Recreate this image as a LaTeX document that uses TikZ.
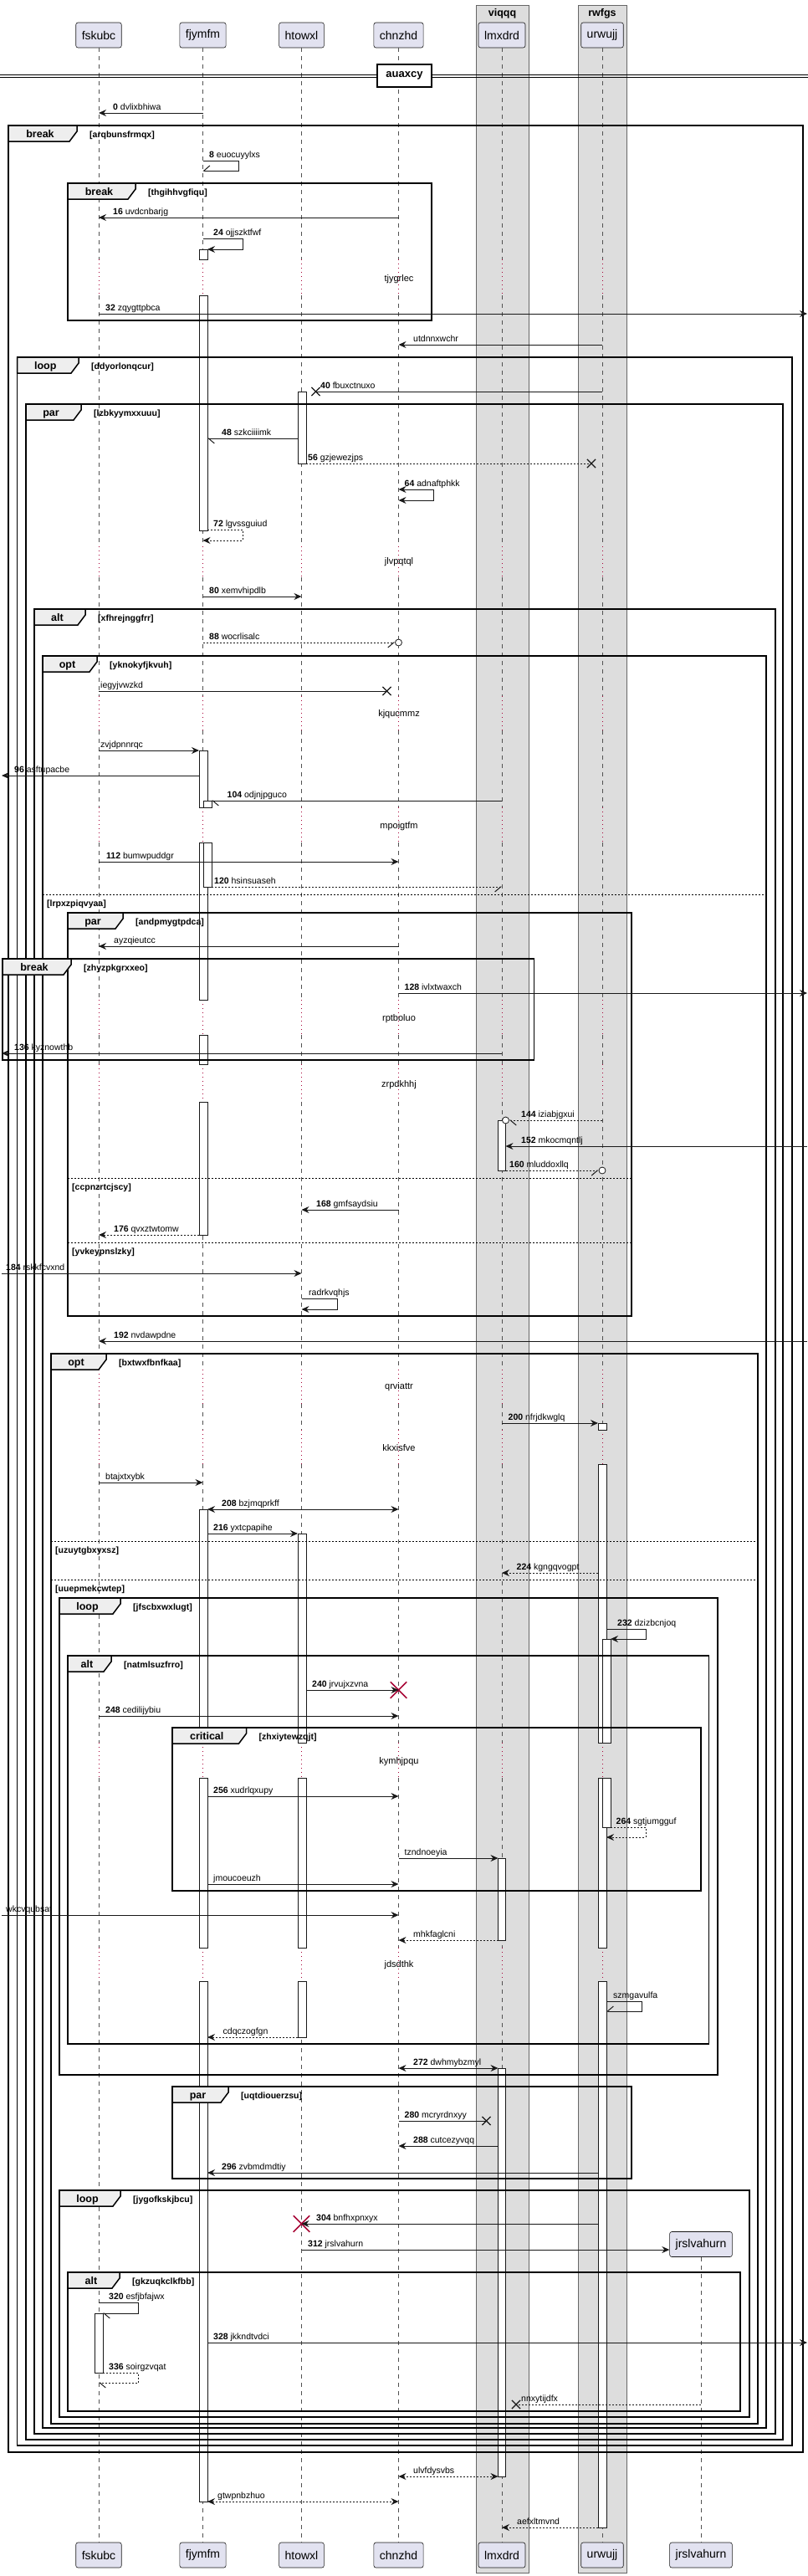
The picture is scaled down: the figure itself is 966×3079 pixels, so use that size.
\documentclass[tikz,border=0pt]{standalone}
\usepackage{fontspec}
\setmainfont{Liberation Sans}
\usetikzlibrary{arrows.meta, shapes.misc}
\definecolor{UML_Part}{HTML}{E2E2F0}
\definecolor{UML_Line}{HTML}{181818}
\definecolor{UML_Box}{HTML}{DDDDDD}
\definecolor{UML_Tab}{HTML}{EEEEEE}
\definecolor{UML_Red}{HTML}{A80036}

\begin{document}
\begin{tikzpicture}[
  x=1pt, y=-1pt,
  every node/.style={font=\fontsize{10.5}{12}\selectfont, inner sep=0pt},
  part/.style={draw=UML_Line, fill=UML_Part, rounded corners=2.5pt, line width=0.6pt,
    minimum height=30pt, inner xsep=7pt, font=\fontsize{14}{16}\selectfont},
  grp/.style={draw=gray!80!black, fill=UML_Box, line width=0.6pt},
  grptxt/.style={font=\bfseries\fontsize{12.5}{14}\selectfont},
  life/.style={UML_Line!75, dash pattern=on 5pt off 5pt, line width=0.5pt},
  wait/.style={UML_Red, dash pattern=on 1pt off 4pt, line width=0.7pt},
  dtxt/.style={font=\fontsize{11}{13}\selectfont},
  bar/.style={draw=UML_Line, fill=white, line width=0.8pt},
  frm/.style={draw=black, line width=1.5pt},
  tab/.style={draw=black, fill=UML_Tab, line width=1.5pt},
  kind/.style={font=\bfseries\fontsize{12.5}{14}\selectfont, anchor=base},
  cond/.style={font=\bfseries\fontsize{10.5}{12}\selectfont, anchor=base west},
  sepline/.style={black, dash pattern=on 2pt off 2pt, line width=1pt},
  solidline/.style={UML_Line, line width=1pt},
  dsh/.style={dash pattern=on 2pt off 2pt},
  msg/.style={solidline, -{Stealth[length=9pt, width=8pt, inset=3pt]}},
  ret/.style={msg, dsh},
  twoway/.style={solidline, {Stealth[length=9pt, width=8pt, inset=3pt]}-{Stealth[length=9pt, width=8pt, inset=3pt]}},
  half/.style={solidline, -{Straight Barb[harpoon, length=7pt, width=12pt]}},
  halfs/.style={solidline, -{Straight Barb[harpoon, swap, length=7pt, width=12pt]}},
  lbl/.style={anchor=base west},
  xmark/.style={cross out, draw=UML_Line, line width=1.2pt, minimum size=9pt},
  kill/.style={cross out, draw=UML_Red, line width=1.5pt, minimum width=18pt, minimum height=18pt},
  ring/.style={circle, draw=UML_Line, fill=white, line width=0.8pt, minimum size=8pt}
]
  \useasboundingbox (0,0) rectangle (966,3079);

  % Boxes of participants
  \draw[grp] (569,6) rectangle (632,3075);
  \node[grptxt] (viqqq) at (600.5,16) {viqqq};
  \draw[grp] (691,6) rectangle (749,3075);
  \node[grptxt] (rwfgs) at (720,16) {rwfgs};

  % Participants
  \node[part] (fskubc) at (118,42) {fskubc};
  \node[part] (fjymfm) at (242.5,42) {fjymfm};
  \node[part] (htowxl) at (360.5,42) {htowxl};
  \node[part] (chnzhd) at (476.5,42) {chnzhd};
  \node[part] (lmxdrd) at (600,42) {lmxdrd};
  \node[part] (urwujj) at (720,42) {urwujj};
  \node[part] (jrslvahurn) at (838,2682.5) {jrslvahurn};
  \node[part] (fskubc-b) at (118,3054) {fskubc};
  \node[part] (fjymfm-b) at (242.5,3054) {fjymfm};
  \node[part] (htowxl-b) at (360.5,3054) {htowxl};
  \node[part] (chnzhd-b) at (476.5,3054) {chnzhd};
  \node[part] (lmxdrd-b) at (600,3054) {lmxdrd};
  \node[part] (urwujj-b) at (720,3054) {urwujj};
  \node[part] (jrslvahurn-b) at (838,3054) {jrslvahurn};

  % Activation edges and picture edges
  \coordinate (fskubc-r) at (123,0);
  \coordinate (fjymfm-l) at (238,0);
  \coordinate (fjymfm-r) at (248,0);
  \coordinate (fjymfm-r2) at (253,0);
  \coordinate (htowxl-l) at (356,0);
  \coordinate (htowxl-r) at (366,0);
  \coordinate (lmxdrd-l) at (595.5,0);
  \coordinate (lmxdrd-r) at (604.5,0);
  \coordinate (urwujj-l) at (715,0);
  \coordinate (urwujj-r) at (725,0);
  \coordinate (urwujj-r2) at (730,0);
  \coordinate (edge-l) at (2,0);
  \coordinate (edge-r) at (965,0);

  % Lifelines, with delays
  \foreach \p in {fskubc,fjymfm,htowxl,chnzhd,lmxdrd,urwujj}{
    \foreach \ya/\yb in {57/310,353/653,690/832,873/965,1007/1195,1237/1272,
      1317/1637,1678/1709,1750/2083,2125/2328,2368/3039}
      \draw[life] (\p |- 0,\ya) -- (\p |- 0,\yb);
    \foreach \ya/\yb in {310/353,653/690,832/873,965/1007,1195/1237,1272/1317,
      1637/1678,1709/1750,2083/2125,2328/2368}
      \draw[wait] (\p |- 0,\ya) -- (\p |- 0,\yb);
  }
  \draw[life] (jrslvahurn.south) -- (jrslvahurn-b.north);
  \foreach \y/\t in {334/tjygrlec,672/jlvpqtql,854/kjqucmmz,988/mpoigtfm,1218/rptboluo,
    1297/zrpdkhhj,1658/qrviattr,1731/kkxisfve,2106/kymhjpqu,2349/jdsdthk}
    \node[dtxt] (d-\t) at (477,\y) {\t};

  % Divider
  \draw[line width=1pt] (0,89) -- (966,89);
  \draw[line width=1pt] (0,92.5) -- (966,92.5);
  \node[draw, fill=white, line width=1.5pt, minimum width=65pt, minimum height=27pt,
    font=\bfseries\fontsize{13}{15}\selectfont] (auaxcy) at (483.5,90.5) {auaxcy};

  % Activations
  \foreach \xa/\xb/\ya/\yb in {238/248/298/310, 238/248/353/634,
    238/248/897/965, 238/248/1007/1195, 238/248/1237/1272, 238/248/1317/1476,
    243/253/957/965, 243/253/1007/1060,
    238/248/1804/2083, 238/248/2125/2328, 238/248/2368/2990,
    356/366/468/554, 356/366/1833/2083, 356/366/2125/2328, 356/366/2368/2435,
    595.5/604.5/1339/1399, 595.5/604.5/2221/2319, 595.5/604.5/2472/2960,
    715/725/1701/1709, 715/725/1750/2083, 715/725/2125/2328, 715/725/2368/3021,
    720/730/1959/2083, 720/730/2125/2184,
    113.5/123/2765/2836}
    \draw[bar] (\xa,\ya) rectangle (\xb,\yb);

  % Frames
  \foreach \n/\xa/\ya/\xb/\yb/\xt/\kd/\cd in {
    1/10/150/960/2931/92/break/arqbunsfrmqx,
    2/81/219/516/383/162/break/thgihhvgfiqu,
    3/20.5/427/947/2923/94/loop/ddyorlonqcur,
    4/31/483/936/2916/97/par/lzbkyymxxuuu,
    5/41/728/927/2909/102/alt/xfhrejnggfrr,
    6/51/784/916/2902/116/opt/yknokyfjkvuh,
    7/81/1091/755/1573/147/par/andpmygtpdca,
    8/3/1146/638.6/1267/85/break/zhyzpkgrxxeo,
    9/61/1618/906/2897/127/opt/bxtwxfbnfkaa,
    10/71/1910/858/2480/144/loop/jfscbxwxlugt,
    11/81/1979/847.5/2443/133/alt/natmlsuzfrro,
    12/206/2065/838/2260/294.5/critical/zhxiytewzqjt,
    13/206/2494/755/2604/273/par/uqtdiouerzsu,
    14/71/2618/896/2889/144/loop/jygofkskjbcu,
    15/81/2716/885/2882/143/alt/gkzuqkclkfbb}{
    \draw[frm] (\xa,\ya) rectangle (\xb,\yb);
    \draw[tab] (\xa,\ya) -- (\xt,\ya) -- (\xt,\ya+7) -- (\xt-9,\ya+19) -- (\xa,\ya+19) -- cycle;
    \node[kind] (k\n) at ({(\xa+\xt-6)/2},\ya+14) {\kd};
    \node[cond] (c\n) at (\xt+15,\ya+14) {[\cd]};
  }
  \foreach \xa/\xb/\y/\cd in {51/916/1069/lrpxzpiqvyaa, 81/755/1408/ccpnzrtcjscy,
    81/755/1485/yvkeypnslzky, 61/906/1842/uzuytgbxyxsz, 61/906/1888/uuepmekcwtep}{
    \draw[sepline] (\xa,\y) -- (\xb,\y);
    \node[cond] (s-\cd) at (\xa+5,\y+14) {[\cd]};
  }

  % Messages
  \draw[msg] (fjymfm |- 0,135) -- (fskubc |- 0,135);
  \node[lbl] (m0) at (135,131) {\textbf{0} dvlixbhiwa};
  \draw[halfs] (fjymfm |- 0,192) -- ++(43,0) -- ++(0,12) -- (fjymfm |- 0,204);
  \node[lbl] (m8) at (250,188) {\textbf{8} euocuyylxs};
  \draw[msg] (chnzhd |- 0,260) -- (fskubc |- 0,260);
  \node[lbl] (m16) at (135,256) {\textbf{16} uvdcnbarjg};
  \draw[msg] (fjymfm |- 0,285.5) -- ++(47.5,0) -- ++(0,12.5) -- (fjymfm-r |- 0,298);
  \node[lbl] (m24) at (255,281.5) {\textbf{24} ojjszktfwf};
  \draw[msg] (fskubc |- 0,375) -- (edge-r |- 0,375);
  \node[lbl] (m32) at (126,371) {\textbf{32} zqygttpbca};
  \draw[msg] (urwujj |- 0,412) -- (chnzhd |- 0,412);
  \node[lbl] (m33) at (494,408) {utdnnxwchr};

  \node[xmark] (x40) at (377.5,468) {};
  \draw[solidline] (urwujj |- 0,468) -- (x40.center);
  \node[lbl] (m40) at (383,464) {\textbf{40} fbuxctnuxo};
  \draw[half] (htowxl-l |- 0,524) -- (fjymfm-r |- 0,524);
  \node[lbl] (m48) at (265,520) {\textbf{48} szkciiiimk};
  \node[xmark] (x56) at (707,554) {};
  \draw[solidline, dsh] (htowxl-r |- 0,554) -- (x56.center);
  \node[lbl] (m56) at (368,550) {\textbf{56} gzjewezjps};
  \draw[twoway] (chnzhd |- 0,585) -- ++(42,0) -- ++(0,13) -- (chnzhd |- 0,598);
  \node[lbl] (m64) at (483.5,581) {\textbf{64} adnaftphkk};
  \draw[ret] (fjymfm-r |- 0,633) -- (290,633) -- (290,646) -- (fjymfm |- 0,646);
  \node[lbl] (m72) at (255,629) {\textbf{72} lgvssguiud};
  \draw[msg] (fjymfm |- 0,713) -- (htowxl |- 0,713);
  \node[lbl] (m80) at (250,709) {\textbf{80} xemvhipdlb};
  \node[ring] (o88) at (476.5,768) {};
  \draw[halfs, dsh] (fjymfm |- 0,768) -- (o88.west);
  \node[lbl] (m88) at (250,764) {\textbf{88} wocrlisalc};

  \node[xmark] (x89) at (462.5,826) {};
  \draw[solidline] (fskubc |- 0,826) -- (x89.center);
  \node[lbl] (m89) at (120,822) {iegyjvwzkd};
  \draw[msg] (fskubc |- 0,897) -- (fjymfm-l |- 0,897);
  \node[lbl] (m90) at (120,893) {zvjdpnnrqc};
  \draw[msg] (fjymfm-l |- 0,927) -- (edge-l |- 0,927);
  \node[lbl] (m96) at (17,923) {\textbf{96} asftupacbe};
  \draw[half] (lmxdrd |- 0,957) -- (fjymfm-r2 |- 0,957);
  \node[lbl] (m104) at (271.5,953) {\textbf{104} odjnjpguco};
  \draw[msg] (fskubc |- 0,1030) -- (chnzhd |- 0,1030);
  \node[lbl] (m112) at (127,1026) {\textbf{112} bumwpuddgr};
  \draw[halfs, dsh] (fjymfm-r2 |- 0,1060) -- (lmxdrd |- 0,1060);
  \node[lbl] (m120) at (256,1056) {\textbf{120} hsinsuaseh};

  \draw[msg] (chnzhd |- 0,1131) -- (fskubc |- 0,1131);
  \node[lbl] (m121) at (136,1127) {ayzqieutcc};
  \draw[msg] (chnzhd |- 0,1187) -- (edge-r |- 0,1187);
  \node[lbl] (m128) at (483.5,1183) {\textbf{128} ivlxtwaxch};
  \draw[msg] (lmxdrd |- 0,1259) -- (edge-l |- 0,1259);
  \node[lbl] (m136) at (17,1255) {\textbf{136} kyznowthb};
  \node[ring] (o144) at (604.5,1339) {};
  \draw[half, dsh] (urwujj |- 0,1339) -- (o144.east);
  \node[lbl] (m144) at (623,1335) {\textbf{144} iziabjgxui};
  \draw[msg] (edge-r |- 0,1370) -- (lmxdrd-r |- 0,1370);
  \node[lbl] (m152) at (623,1366) {\textbf{152} mkocmqntlj};
  \node[ring] (o160) at (720,1399) {};
  \draw[halfs, dsh] (lmxdrd-r |- 0,1399) -- (o160.west);
  \node[lbl] (m160) at (609,1395) {\textbf{160} mluddoxllq};
  \draw[msg] (chnzhd |- 0,1446) -- (htowxl |- 0,1446);
  \node[lbl] (m168) at (378,1442) {\textbf{168} gmfsaydsiu};
  \draw[ret] (fjymfm-l |- 0,1476) -- (fskubc |- 0,1476);
  \node[lbl] (m176) at (136,1472) {\textbf{176} qvxztwtomw};
  \draw[msg] (edge-l |- 0,1522) -- (htowxl |- 0,1522);
  \node[lbl] (m184) at (7,1518) {\textbf{184} rskkfcvxnd};
  \draw[msg] (htowxl |- 0,1552) -- ++(42.5,0) -- ++(0,13) -- (htowxl |- 0,1565);
  \node[lbl] (m185) at (369,1548) {radrkvqhjs};

  \draw[msg] (edge-r |- 0,1603) -- (fskubc |- 0,1603);
  \node[lbl] (m192) at (136,1599) {\textbf{192} nvdawpdne};
  \draw[msg] (lmxdrd |- 0,1701) -- (urwujj-l |- 0,1701);
  \node[lbl] (m200) at (607.5,1697) {\textbf{200} nfrjdkwglq};
  \draw[msg] (fskubc |- 0,1772) -- (fjymfm |- 0,1772);
  \node[lbl] (m201) at (126,1768) {btajxtxybk};
  \draw[twoway] (fjymfm-r |- 0,1804) -- (chnzhd |- 0,1804);
  \node[lbl] (m208) at (265,1800) {\textbf{208} bzjmqprkff};
  \draw[msg] (fjymfm-r |- 0,1833) -- (htowxl-l |- 0,1833);
  \node[lbl] (m216) at (255,1829) {\textbf{216} yxtcpapihe};
  \draw[ret] (urwujj-l |- 0,1880) -- (lmxdrd |- 0,1880);
  \node[lbl] (m224) at (617.5,1876) {\textbf{224} kgngqvogpt};
  \draw[msg] (urwujj-r |- 0,1947) -- (772,1947) -- (772,1959) -- (urwujj-r2 |- 0,1959);
  \node[lbl] (m232) at (738,1943) {\textbf{232} dzizbcnjoq};
  \node[kill] (k240) at (476.5,2020) {};
  \draw[msg] (htowxl-r |- 0,2020) -- (k240.center);
  \node[lbl] (m240) at (373,2016) {\textbf{240} jrvujxzvna};
  \draw[msg] (fskubc |- 0,2051) -- (chnzhd |- 0,2051);
  \node[lbl] (m248) at (126,2047) {\textbf{248} cedilijybiu};
  \draw[msg] (fjymfm-r |- 0,2147) -- (chnzhd |- 0,2147);
  \node[lbl] (m256) at (255,2143) {\textbf{256} xudrlqxupy};
  \draw[ret] (urwujj-r2 |- 0,2184) -- (772,2184) -- (772,2196) -- (urwujj-r |- 0,2196);
  \node[lbl] (m264) at (736.5,2180) {\textbf{264} sgtjumgguf};
  \draw[msg] (chnzhd |- 0,2221) -- (lmxdrd-l |- 0,2221);
  \node[lbl] (m265) at (483.5,2217) {tzndnoeyia};
  \draw[msg] (fjymfm-r |- 0,2252) -- (chnzhd |- 0,2252);
  \node[lbl] (m266) at (255,2248) {jmoucoeuzh};
  \draw[msg] (edge-l |- 0,2289) -- (chnzhd |- 0,2289);
  \node[lbl] (m267) at (7,2285) {wkcvqubsat};
  \draw[ret] (lmxdrd-l |- 0,2319) -- (chnzhd |- 0,2319);
  \node[lbl] (m268) at (494,2315) {mhkfaglcni};
  \draw[halfs] (urwujj-r |- 0,2392) -- (767,2392) -- (767,2404) -- (urwujj-r |- 0,2404);
  \node[lbl] (m269) at (733,2388) {szmgavulfa};
  \draw[ret] (htowxl-l |- 0,2435) -- (fjymfm-r |- 0,2435);
  \node[lbl] (m270) at (266.5,2431) {cdqczogfgn};
  \draw[twoway] (chnzhd |- 0,2472) -- (lmxdrd-l |- 0,2472);
  \node[lbl] (m272) at (494,2468) {\textbf{272} dwhmybzmyl};

  \node[xmark] (x280) at (581.5,2535) {};
  \draw[solidline] (chnzhd |- 0,2535) -- (x280.center);
  \node[lbl] (m280) at (483.5,2531) {\textbf{280} mcryrdnxyy};
  \draw[msg] (lmxdrd-l |- 0,2565) -- (chnzhd |- 0,2565);
  \node[lbl] (m288) at (494,2561) {\textbf{288} cutcezyvqq};
  \draw[msg] (urwujj-l |- 0,2597) -- (fjymfm-r |- 0,2597);
  \node[lbl] (m296) at (265,2593) {\textbf{296} zvbmdmdtiy};
  \node[kill] (k304) at (360.5,2658) {};
  \draw[msg] (urwujj-l |- 0,2658) -- (k304.center);
  \node[lbl] (m304) at (378,2654) {\textbf{304} bnfhxpnxyx};
  \draw[msg] (htowxl |- 0,2689) -- (jrslvahurn.west |- 0,2689);
  \node[lbl] (m312) at (368,2685) {\textbf{312} jrslvahurn};
  \draw[half] (fskubc |- 0,2752) -- (165.5,2752) -- (165.5,2765) -- (fskubc-r |- 0,2765);
  \node[lbl] (m320) at (130,2748) {\textbf{320} esfjbfajwx};
  \draw[msg] (fjymfm-r |- 0,2800) -- (edge-r |- 0,2800);
  \node[lbl] (m328) at (255,2796) {\textbf{328} jkkndtvdci};
  \draw[half, dsh] (fskubc-r |- 0,2836) -- (165.5,2836) -- (165.5,2848) -- (fskubc |- 0,2848);
  \node[lbl] (m336) at (130,2832) {\textbf{336} soirgzvqat};
  \node[xmark] (x337) at (617,2874) {};
  \draw[solidline, dsh] (jrslvahurn |- 0,2874) -- (x337.center);
  \node[lbl] (m337) at (623,2870) {nnxytijdfx};

  \draw[twoway, dsh] (chnzhd |- 0,2960) -- (lmxdrd-l |- 0,2960);
  \node[lbl] (m338) at (494,2956) {ulvfdysvbs};
  \draw[twoway, dsh] (fjymfm-r |- 0,2990) -- (chnzhd |- 0,2990);
  \node[lbl] (m339) at (260,2986) {gtwpnbzhuo};
  \draw[ret] (urwujj-l |- 0,3021) -- (lmxdrd |- 0,3021);
  \node[lbl] (m340) at (618,3017) {aefxltmvnd};
\end{tikzpicture}
\end{document}
